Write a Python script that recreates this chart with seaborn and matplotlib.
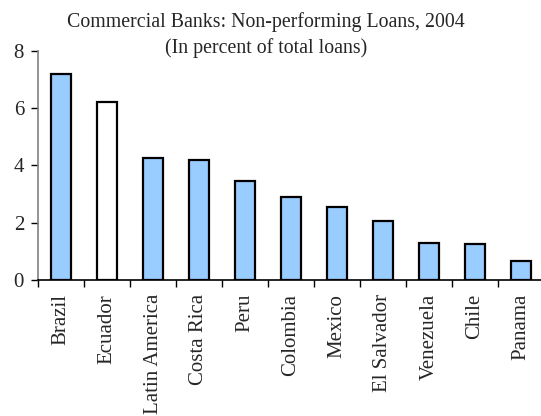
import matplotlib
matplotlib.use("Agg")
import matplotlib.pyplot as plt
import seaborn as sns
import pandas as pd

categories = ["Brazil", "Ecuador", "Latin America", "Costa Rica", "Peru", "Colombia",
              "Mexico", "El Salvador", "Venezuela", "Chile", "Panama"]
values = [7.2, 6.2, 4.25, 4.18, 3.44, 2.88, 2.56, 2.06, 1.30, 1.24, 0.67]
colors = ["#99CCFF", "#FFFFFF"] + ["#99CCFF"] * 9
yticks = [0, 2, 4, 6, 8]

sns.set_style("white")
plt.rcParams['font.family'] = ['Liberation Serif', 'DejaVu Serif']

df = pd.DataFrame({"cat": categories, "val": values})

fig = plt.figure(figsize=(5.41, 4.16), dpi=100)
ax = fig.add_axes([38/541, 136/416, 506/541, 229.3/416])
sns.barplot(data=df, x="cat", y="val", hue="cat", palette=colors, legend=False,
            width=0.42, edgecolor="black", linewidth=1.6, saturation=1, ax=ax)

ax.set_xlim(-0.5, len(categories) - 0.5)
ax.set_ylim(0, 8)
ax.set_yticks(yticks)
ax.set_xticks([i - 0.5 for i in range(len(categories) + 1)], minor=False)
ax.set_xticklabels([])
ax.set_xticks(range(len(categories)), minor=True)
ax.set_xticklabels(categories, minor=True, rotation=90, fontsize=15)
ax.tick_params(axis="x", which="major", direction="out", length=5, width=1, color="black", bottom=True)
ax.tick_params(axis="x", which="minor", length=0, pad=10)
ax.tick_params(axis="y", direction="out", length=5, width=1, color="black", left=True, labelsize=15, pad=5)
ax.set_xlabel("")
ax.set_ylabel("")
for s in ["top", "right"]:
    ax.spines[s].set_visible(False)
ax.spines["left"].set_color("#808080")
ax.spines["bottom"].set_color("black")
ax.spines["left"].set_linewidth(1.2)
ax.spines["bottom"].set_linewidth(1.2)

fig.text(266/541, 1 - 22/416, "Commercial Banks: Non-performing Loans, 2004", ha="center", va="center", fontsize=14.3)
fig.text(266/541, 1 - 48/416, "(In percent of total loans)", ha="center", va="center", fontsize=14.3)

fig.savefig("out.png", dpi=100)
